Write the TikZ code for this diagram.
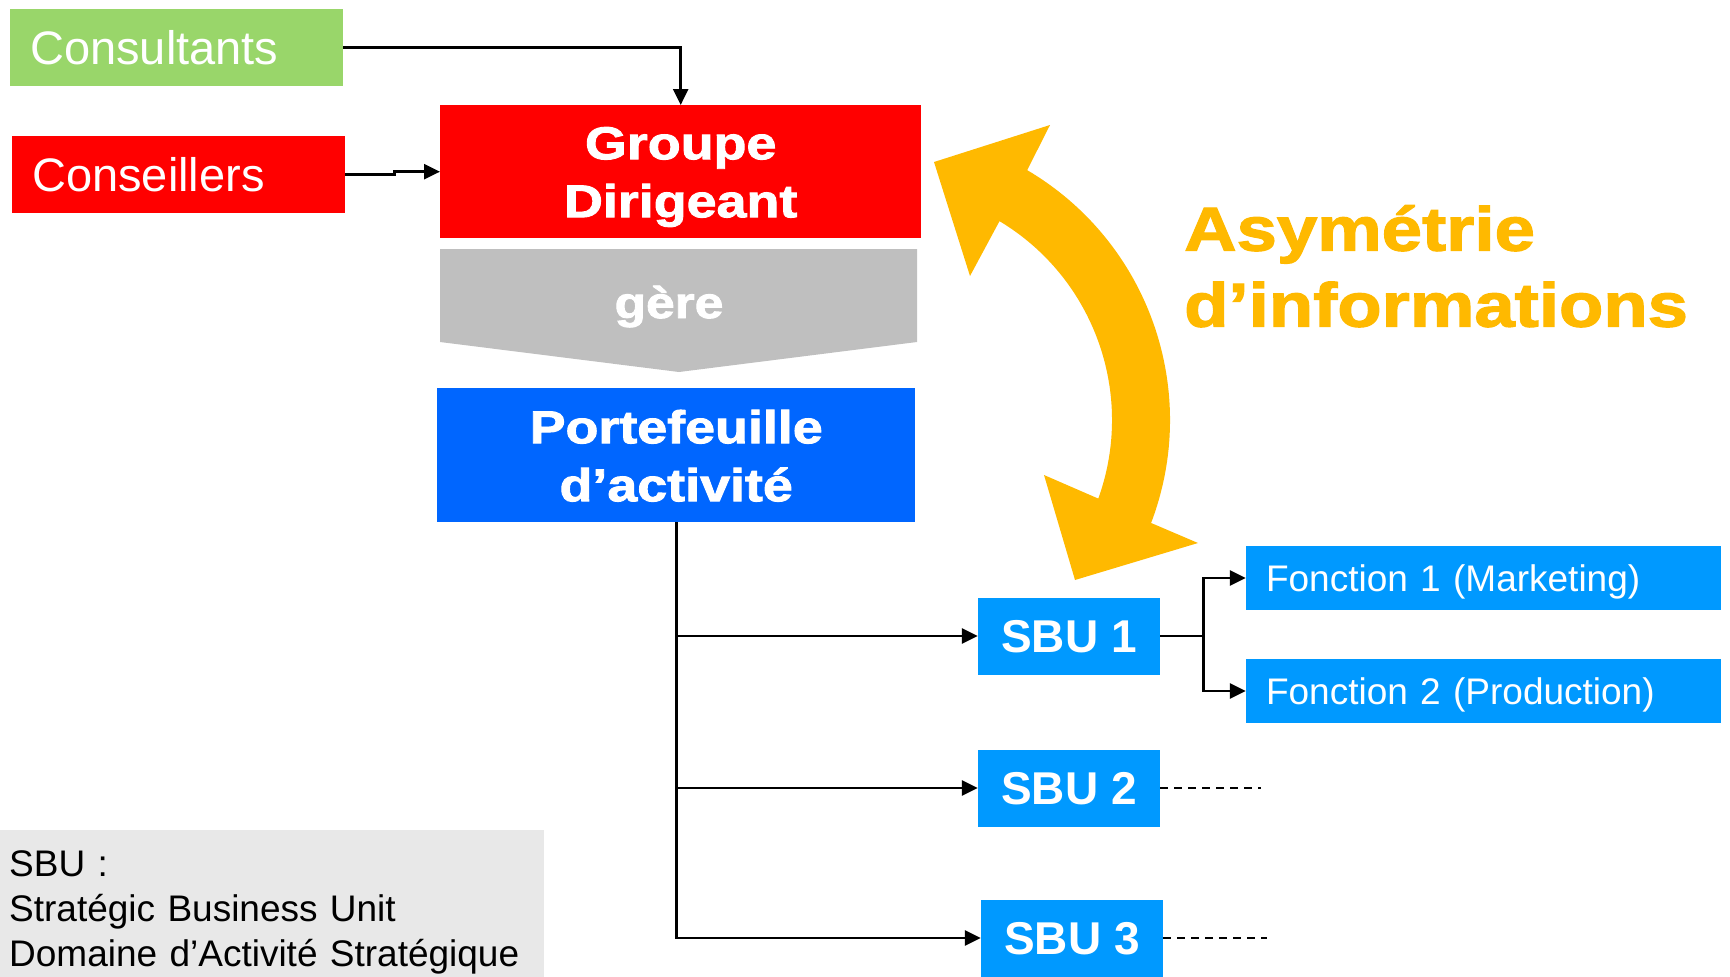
\documentclass[tikz,border=0pt]{standalone}
\usepackage{fontspec}
\setmainfont{Liberation Sans}
\newfontfamily\heavyfont{Liberation Sans}[FakeStretch=1.17,BoldFeatures={FakeBold=2}]
\usetikzlibrary{arrows.meta,positioning}
\definecolor{consgreen}{RGB}{153,214,106}
\definecolor{dirred}{RGB}{255,0,0}
\definecolor{geregray}{RGB}{191,191,191}
\definecolor{portblue}{RGB}{0,102,255}
\definecolor{sbublue}{RGB}{0,153,255}
\definecolor{infoyellow}{RGB}{255,185,0}
\definecolor{legendgray}{RGB}{232,232,232}

\begin{document}
\begin{tikzpicture}[x=1pt,y=1pt,on grid,
    every node/.style={inner sep=0pt,text=white},
    sidebox/.style={anchor=north west,align=left,text width=293pt,inner xsep=20pt,
        minimum height=77pt,font=\fontsize{47}{56}\selectfont,text height=33.6pt,text depth=0pt},
    bigbox/.style={align=center,font=\heavyfont\bfseries\fontsize{46}{58}\selectfont,
        text height=33pt,text depth=58pt},
    sbubox/.style={fill=sbublue,minimum width=182pt,minimum height=77pt,
        font=\bfseries\fontsize{46}{55}\selectfont,text height=33pt,text depth=0pt},
    fctbox/.style={fill=sbublue,align=left,text width=435pt,inner xsep=20pt,minimum height=64pt,
        font=\fontsize{37}{44}\selectfont,text height=26.5pt,text depth=0pt},
    link/.style={draw=black,line width=2.7pt,-{Triangle[length=16pt,width=15pt]}},
    dashlink/.style={draw=black,line width=2pt,dash pattern=on 8pt off 6pt}]
    \useasboundingbox (0,0) rectangle (1730,-977);

    \node[sidebox,fill=consgreen] (consult) at (10,-9) {Consultants};
    \node[sidebox,fill=dirred] (conseil) at (12,-136) {Conseillers};
    \node[bigbox,fill=dirred,text width=481pt,minimum height=133pt,anchor=north west]
        (groupe) at (440,-105) {Groupe\\Dirigeant};

    \fill[geregray] (440,-249) -- (917,-249) -- (917,-342) -- (679,-372) -- (440,-342) -- cycle;
    \node[anchor=base,font=\heavyfont\bfseries\fontsize{44}{52}\selectfont] (gere) at (669,-318) {gère};

    \node[bigbox,fill=portblue,text width=478pt,minimum height=134pt,anchor=north west,
        text depth=57pt] (porte) at (437,-388) {Portefeuille\\d’activité};

    \node[sbubox] (sbu1) at (1069,-636) {SBU 1};
    \node[sbubox,below=152pt of sbu1] (sbu2) {SBU 2};
    \node[sbubox,below right=150pt and 3pt of sbu2] (sbu3) {SBU 3};

    \node[fctbox] (f1) at (1483.5,-578) {Fonction 1 (Marketing)};
    \node[fctbox,below=113pt of f1] (f2) {Fonction 2 (Production)};

    \node[fill=legendgray,text=black,anchor=north west,align=left,text width=526pt,inner xsep=9pt,
        minimum height=147pt,font=\fontsize{37}{45}\selectfont,text height=37pt,text depth=92pt]
        (legend) at (0,-830) {SBU :\\Stratégic Business Unit\\Domaine d’Activité Stratégique};

    \coordinate (ctr) at (880,-420);
    \fill[infoyellow] ([shift={(59.5:290)}]ctr) arc[start angle=59.5,end angle=-20.8,radius=290]
        -- (1198,-543) -- (1075,-580) -- (1044,-475) -- ([shift={(-19.8:232)}]ctr)
        arc[start angle=-19.8,end angle=59,radius=232]
        -- (970,-276) -- (934,-162) -- (1050,-125) -- cycle;
    \node[text=infoyellow,anchor=north west,align=left,text width=540pt,
        font=\heavyfont\bfseries\fontsize{62}{76}\selectfont,text height=44.4pt,text depth=76pt]
        (asym) at (1184,-206) {Asymétrie\\d’informations};

    \draw[link] (consult.east) -| (groupe.north);
    \draw[link] (conseil.east) -- ++(49,0) |- (groupe.west);
    \draw[link] (porte.south) |- (sbu1.west);
    \draw[link] (porte.south) |- (sbu2.west);
    \draw[link] (porte.south) |- (sbu3.west);
    \draw[link] (sbu1.east) -- ++(43,0) coordinate (fork) |- (f1.west);
    \draw[link] (fork) |- (f2.west);

    \coordinate (sbu2end) at (1261,-788);
    \coordinate (sbu3end) at (1267,-938);
    \draw[dashlink] (sbu2.east) -- (sbu2end);
    \draw[dashlink] (sbu3.east) -- (sbu3end);
\end{tikzpicture}
\end{document}
